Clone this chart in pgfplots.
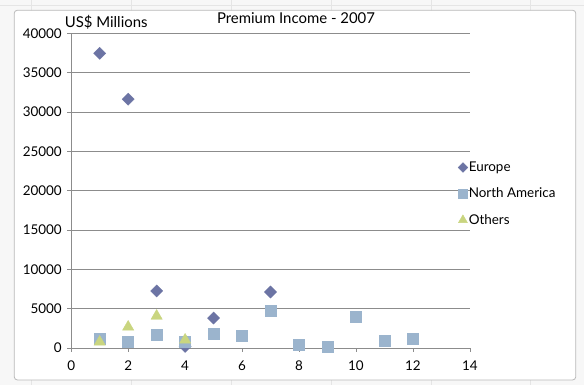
\documentclass[border=0pt]{standalone}
\usepackage{pgfplots}
\pgfplotsset{compat=1.18}
\usepackage{fontspec}
\setmainfont{Lato}

\definecolor{europe}{HTML}{6C74A4}
\definecolor{namerica}{HTML}{9BB4CD}
\definecolor{others}{HTML}{C9D57F}
\definecolor{gridc}{HTML}{8C8C8C}

\begin{document}
\begin{tikzpicture}[x=1bp,y=1bp]
  % sheet background and chart frame
  \fill[gray!6] (-71,-37) rectangle (513,348);
  \foreach \gx in {-40,60,160,260,360,460}
    \draw[gray!20, line width=0.6bp] (\gx,-37) -- (\gx,348);
  \draw[gray!20, line width=0.6bp] (-71,343) -- (513,343);
  \draw[gray!55, fill=white, rounded corners=3bp, line width=0.8bp] (-57,-32) rectangle (505,338);

  \begin{axis}[
    at={(0,0)}, anchor=origin,
    scale only axis,
    width=399bp, height=315bp,
    xmin=0, xmax=14, ymin=0, ymax=40000,
    xtick={0,2,...,14},
    ytick={0,5000,...,40000},
    axis x line*=bottom, axis y line*=left,
    axis line style={gridc, line width=0.6bp},
    every outer x axis line/.append style={-},
    every outer y axis line/.append style={-},
    tick style={gridc, line width=0.6bp},
    tick align=outside,
    major tick length=4bp,
    ymajorgrids,
    grid style={gridc, line width=0.6bp},
    scaled y ticks=false,
    /pgf/number format/fixed,
    /pgf/number format/1000 sep={},
    /pgf/number format/assume math mode=true,
    xticklabel style={yshift=-5bp},
    yticklabel style={xshift=-2bp},
    tick label style={font=\fontsize{13.5}{15}\selectfont},
    legend style={
      draw=none, fill=none,
      at={(0.97,0.595)}, anchor=north west,
      font=\fontsize{13.5}{15}\selectfont,
      row sep=13bp,
      inner sep=0pt,
      nodes={inner sep=1bp},
    },
    legend image code/.code={\draw[#1, scale=0.8] plot coordinates {(0.2cm,0cm)};},
    legend cell align=left,
    clip=false,
  ]
    % Europe: squares turned on their corners
    \addplot[only marks, mark=square*, mark options={rotate=45}, mark size=4.3bp, color=europe, fill=europe]
      coordinates {(1,37450) (2,31620) (3,7240) (4,200) (5,3800) (7,7110)};
    % North America
    \addplot[only marks, mark=square*, mark size=5.5bp, color=namerica, fill=namerica]
      coordinates {(1,1150) (2,770) (3,1650) (4,770) (5,1780) (6,1520)
                   (7,4700) (8,380) (9,130) (10,3940) (11,890) (12,1140)};
    % Others
    \addplot[only marks, mark=triangle*, mark size=6.5bp, color=others, fill=others]
      coordinates {(1,760) (2,2670) (3,4060) (4,1020)};
    \legend{Europe, North America, Others}
  \end{axis}

  \node[font=\fontsize{15}{17}\selectfont] at (225,330) {Premium Income - 2007};
  \node[font=\fontsize{15}{17}\selectfont] at (35,326) {US\$ Millions};
\end{tikzpicture}
\end{document}
